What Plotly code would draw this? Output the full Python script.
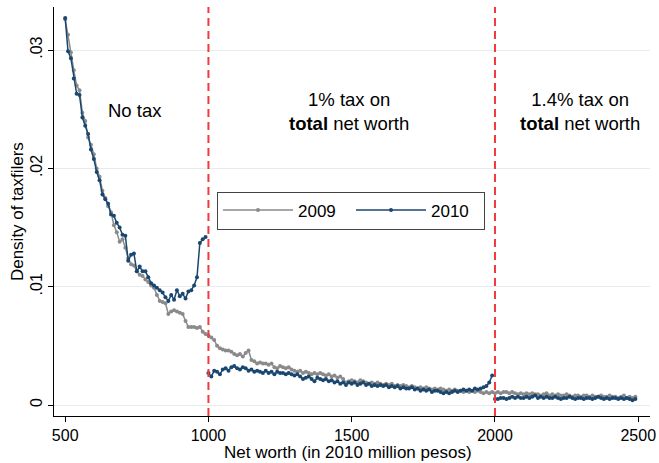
import plotly.graph_objects as go

# ------------------------------------------------------------
# data: density of taxfilers by net worth bin (bins of 10)
# ------------------------------------------------------------
bins_low = list(range(500, 1000, 10))
bins_mid = list(range(1000, 2000, 10))
bins_high = list(range(2000, 2500, 10))

d2009_low = [
    .0326, .0313, .0298, .0283, .0270, .0266, .0247, .0240, .0226, .0220,
    .0212, .0200, .0193, .0181, .0175, .0168, .0163, .0152, .0146, .0138,
    .0140, .0133, .0124, .0119, .0118, .0113, .0110, .0109, .0106, .0104,
    .0101, .0099, .0093, .0088, .0087, .0086, .0077, .0079, .0080, .0079,
    .0078, .0077, .0071, .0066, .0066, .0066, .0065, .0066, .0062, .0060,
]
d2009_mid = [
    .0059, .0057, .0055, .0050, .0048, .0047, .0046, .0046, .0045, .0043,
    .0042, .0043, .0041, .0044, .0046, .0038, .0037, .0035, .0036, .0035,
    .0035, .0034, .0035, .0032, .0031, .0033, .0032, .0031, .0032, .0030,
    .0029, .0028, .0029, .0027, .0028, .0027, .0026, .0027, .0026, .0027,
    .0026, .0025, .0026, .0024, .0025, .0023, .0024, .0022, .0019, .0020,
    .0021, .0020, .0019, .0021, .0020, .0019, .0018, .0019, .0018, .0019,
    .0018, .0017, .0018, .0017, .0018, .0016, .0017, .0016, .0017, .0016,
    .0015, .0016, .0015, .0014, .0015, .0014, .0015, .0014, .0013, .0014,
    .0013, .0014, .0013, .0012, .0013, .0012, .0013, .0012, .0012, .0011,
    .0012, .0011, .0012, .0011, .0012, .0011, .0010, .0011, .0010, .0011,
]
d2009_high = [
    .0010, .0011, .0010, .0011, .0011, .0010, .0011, .0010, .0009, .0010,
    .0009, .0010, .0009, .0010, .0009, .0009, .0008, .0009, .0010, .0008,
    .0009, .0008, .0009, .0008, .0008, .0009, .0008, .0007, .0008, .0008,
    .0007, .0008, .0008, .0007, .0008, .0007, .0007, .0008, .0007, .0007,
    .0008, .0007, .0007, .0006, .0007, .0008, .0006, .0007, .0006, .0007,
]

d2010_low = [
    .0327, .0299, .0293, .0276, .0263, .0262, .0243, .0236, .0229, .0216,
    .0208, .0197, .0190, .0178, .0174, .0170, .0161, .0160, .0154, .0150,
    .0144, .0143, .0122, .0127, .0128, .0113, .0117, .0113, .0113, .0108,
    .0103, .0101, .0099, .0097, .0095, .0091, .0088, .0093, .0089, .0097,
    .0092, .0094, .0090, .0096, .0097, .0101, .0108, .0137, .0140, .0142,
]
d2010_mid = [
    .0027, .0024, .0029, .0028, .0026, .0030, .0031, .0029, .0032, .0033,
    .0031, .0030, .0032, .0031, .0029, .0030, .0028, .0029, .0028, .0027,
    .0029, .0027, .0028, .0026, .0028, .0027, .0027, .0026, .0027, .0026,
    .0025, .0026, .0024, .0022, .0023, .0024, .0022, .0020, .0023, .0022,
    .0021, .0022, .0020, .0021, .0019, .0020, .0018, .0019, .0017, .0019,
    .0018, .0019, .0017, .0018, .0019, .0017, .0018, .0016, .0017, .0016,
    .0017, .0016, .0017, .0015, .0016, .0015, .0016, .0014, .0015, .0014,
    .0014, .0015, .0013, .0014, .0012, .0013, .0012, .0013, .0011, .0012,
    .0012, .0011, .0010, .0011, .0010, .0011, .0012, .0011, .0012, .0013,
    .0012, .0013, .0012, .0014, .0013, .0014, .0015, .0016, .0019, .0025,
]
d2010_high = [
    .0005, .0005, .0006, .0006, .0005, .0006, .0007, .0006, .0007, .0006,
    .0006, .0007, .0006, .0007, .0008, .0006, .0007, .0006, .0007, .0006,
    .0006, .0007, .0006, .0005, .0006, .0006, .0007, .0006, .0005, .0006,
    .0006, .0005, .0006, .0006, .0005, .0006, .0007, .0006, .0005, .0006,
    .0005, .0006, .0006, .0005, .0006, .0005, .0006, .0005, .0004, .0005,
]

thresholds = [1000, 2000]
x_ticks = [500, 1000, 1500, 2000, 2500]
y_ticks = [0, .01, .02, .03]
y_ticklabels = ["0", ".01", ".02", ".03"]

GRAY = "#8a8a8a"
NAVY = "#1a476f"
RED = "#f03a3f"
FONT = "Liberation Sans, Arial, Helvetica, sans-serif"

# 2009 drawn as one line, 2010 broken at the tax thresholds
x09 = bins_low + bins_mid + bins_high
y09 = d2009_low + d2009_mid + d2009_high
x10 = bins_low + [None] + bins_mid + [None] + bins_high
y10 = d2010_low + [None] + d2010_mid + [None] + d2010_high

fig = go.Figure()

fig.add_trace(go.Scatter(
    x=x09, y=y09, mode="lines+markers", name="2009",
    line=dict(color=GRAY, width=1.5),
    marker=dict(color=GRAY, size=4),
    connectgaps=False
))
fig.add_trace(go.Scatter(
    x=x10, y=y10, mode="lines+markers", name="2010",
    line=dict(color=NAVY, width=1.5),
    marker=dict(color=NAVY, size=4),
    connectgaps=False
))

# red dashed threshold lines
for t in thresholds:
    fig.add_shape(type="line", x0=t, x1=t, y0=0, y1=1,
                  xref="x", yref="paper",
                  line=dict(color=RED, width=2, dash="8px,5px"))

# region labels
fig.add_annotation(x=744, y=.0249, text="No tax", showarrow=False,
                   font=dict(size=18.5, color="black"))
fig.add_annotation(x=1491, y=.0248, text="1% tax on<br><b>total</b> net worth",
                   showarrow=False, font=dict(size=18.5, color="black"))
fig.add_annotation(x=2297, y=.0248, text="1.4% tax on<br><b>total</b> net worth",
                   showarrow=False, font=dict(size=18.5, color="black"))

# axis titles
fig.add_annotation(x=0.4933, y=-0.0895, xref="paper", yref="paper",
                   xanchor="center", yanchor="middle",
                   text="Net worth (in 2010 million pesos)", showarrow=False,
                   font=dict(size=17, color="black"))
fig.add_annotation(x=-0.0621, y=0.501, xref="paper", yref="paper",
                   xanchor="center", yanchor="middle",
                   text="Density of taxfilers", textangle=-90, showarrow=False,
                   font=dict(size=17, color="black"))

fig.update_layout(
    width=659, height=463,
    margin=dict(l=54, r=9, t=7, b=47),
    paper_bgcolor="white",
    plot_bgcolor="white",
    font=dict(family=FONT, size=16, color="black"),
    showlegend=True,
    legend=dict(
        orientation="h",
        x=0.2735, y=0.5024, xanchor="left", yanchor="middle",
        bordercolor="#444444", borderwidth=1, bgcolor="white",
        font=dict(size=17),
        itemwidth=70,
        entrywidth=48,
    ),
)

fig.update_xaxes(
    range=[461, 2541],
    tickvals=x_ticks,
    ticks="outside", ticklen=5, tickcolor="black",
    showline=True, linecolor="black", linewidth=1,
    showgrid=False, zeroline=False, automargin=False,
    tickfont=dict(size=16),
)
fig.update_yaxes(
    range=[-0.00093, 0.03364],
    tickvals=y_ticks, ticktext=y_ticklabels,
    tickangle=-90,
    ticks="outside", ticklen=5, tickcolor="black",
    showline=True, linecolor="black", linewidth=1,
    showgrid=True, gridcolor="#e4ecee", gridwidth=1,
    zeroline=False, automargin=False,
    tickfont=dict(size=16),
)

# drop the default page margin so the figure sits at the window's corner
fig.write_html("out.html", config={"displayModeBar": False},
               post_script="document.body.style.margin='0';")
